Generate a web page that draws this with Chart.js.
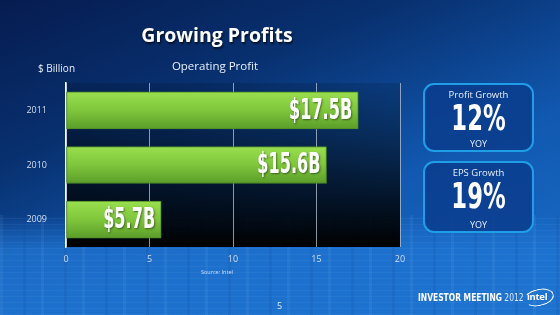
<!DOCTYPE html>
<html>
<head>
<meta charset="utf-8">
<script src="https://cdn.jsdelivr.net/npm/chart.js@4.4.1/dist/chart.umd.min.js"></script>
<style>
  html, body { margin: 0; padding: 0; }
  body {
    width: 560px; height: 315px; overflow: hidden; position: relative;
    font-family: "Open Sans", "DejaVu Sans", sans-serif; color: #fff;
    background: linear-gradient(158deg, #061c50 0%, #08306f 30%, #1158b0 62%, #1a6fca 100%);
  }
  #wafer {
    position: absolute; left: 0; top: 215px; width: 560px; height: 100px;
    background:
      repeating-linear-gradient(90deg, rgba(140,200,255,0.08) 0 3px, transparent 3px 23px, rgba(10,60,140,0.12) 23px 26px, transparent 26px 41px),
      repeating-linear-gradient(0deg, rgba(140,200,255,0.07) 0 1px, transparent 1px 6px),
      linear-gradient(180deg, rgba(30,110,210,0) 0%, rgba(32,118,212,0.75) 35%, rgba(30,115,208,0.9) 100%);
  }
  #chart { position: absolute; left: 0; top: 0; }
  .txt { position: absolute; white-space: nowrap; }
  #title { left: 0; width: 434px; top: 21px; text-align: center; font-size: 19.5px; font-weight: 700;
           text-shadow: 1px 2px 2px rgba(0,0,0,0.6); }
  #unit { left: 38px; top: 61px; font-size: 10px; color: #e8eef8; }
  #sub { left: 150px; width: 130px; top: 58px; text-align: center; font-size: 11.5px; color: #e8eef8; }
  .box {
    position: absolute; left: 423px; width: 107px; border: 2px solid #1f9de6; border-radius: 11px;
    background: rgba(10,60,140,0.85); text-align: center;
  }
  .box .lbl { position: absolute; left: 0; right: 0; font-size: 9.5px; color: #e6eefa; }
  .box .big { position: absolute; left: 0; right: 0; font-family: "DejaVu Sans Condensed", sans-serif;
              font-weight: 700; font-size: 36px; line-height: 36px; transform: scaleX(0.7); }
  .box .yoy { position: absolute; left: 0; right: 0; font-size: 9px; color: #e6eefa; }
  #src { left: 201px; top: 268px; font-size: 5.5px; color: #cfe0f5; }
  #page { left: 277px; top: 299px; font-size: 9px; color: #dde8f6; }
  #meet { left: 418px; top: 291px; font-family: "DejaVu Sans Condensed", sans-serif; font-size: 10.5px; color: #fff;
          transform: scaleX(0.8); transform-origin: left center; }
  #meet b { font-weight: 700; }
  #meet span { color: #d8e6f6; font-weight: 400; }
  #logo { left: 524px; top: 289px; width: 28px; height: 15px; border: 1.5px solid #fff; border-radius: 50%;
          border-left-color: transparent; transform: rotate(-12deg); }
  #logotxt { left: 527px; top: 290px; font-size: 9.5px; font-weight: 700; color: #fff; letter-spacing: -0.3px; }
</style>
</head>
<body>
<div id="wafer"></div>
<canvas id="chart" width="560" height="315"></canvas>

<div class="txt" id="title">Growing Profits</div>
<div class="txt" id="unit">$ Billion</div>
<div class="txt" id="sub">Operating Profit</div>

<div id="boxes"></div>

<div class="txt" id="src">Source: Intel</div>
<div class="txt" id="page">5</div>
<div class="txt" id="meet"><b>INVESTOR MEETING</b> <span>2012</span></div>
<div class="txt" id="logo"></div>
<div class="txt" id="logotxt">intel</div>

<script>
// datos del grafico
const years = ['2011', '2010', '2009'];
const operatingProfit = [17.5, 15.6, 5.7];
const xTicks = [0, 5, 10, 15, 20];

// recuadros de la derecha
const kpiTitles = ['Profit Growth', 'EPS Growth'];
const kpiValues = ['12%', '19%'];
const kpiUnits = ['YOY', 'YOY'];

document.addEventListener('DOMContentLoaded', function () {
    // --- recuadros KPI ---
    const boxTops = [83, 161];
    const boxes = document.getElementById('boxes');
    kpiTitles.forEach((t, i) => {
        const b = document.createElement('div');
        b.className = 'box';
        b.style.top = boxTops[i] + 'px';
        b.style.height = (i === 0 ? 65 : 68) + 'px';
        b.innerHTML =
            '<div class="lbl" style="top:3px">' + t + '</div>' +
            '<div class="big" style="top:15px">' + kpiValues[i] + '</div>' +
            '<div class="yoy" style="top:' + (i === 0 ? 52 : 55) + 'px">' + kpiUnits[i] + '</div>';
        boxes.appendChild(b);
    });

    // fondo del area del grafico (azul a negro)
    const fondoArea = {
        id: 'fondoArea',
        beforeDraw(chart) {
            const { ctx, chartArea: a } = chart;
            const g = ctx.createLinearGradient(0, a.top, 0, a.bottom);
            g.addColorStop(0, 'rgba(0,0,0,0.12)');
            g.addColorStop(0.55, 'rgba(0,0,0,0.65)');
            g.addColorStop(1, 'rgba(0,0,0,1)');
            ctx.save();
            ctx.fillStyle = g;
            ctx.fillRect(a.left, a.top, a.right - a.left, a.bottom - a.top);
            ctx.restore();
        }
    };

    // etiquetas dentro de las barras
    const etiquetas = {
        id: 'etiquetas',
        afterDatasetsDraw(chart) {
            const ctx = chart.ctx;
            const meta = chart.getDatasetMeta(0);
            meta.data.forEach((bar, i) => {
                const txt = '$' + operatingProfit[i].toFixed(1) + 'B';
                ctx.save();
                ctx.translate(bar.x - 6, bar.y + 1);
                ctx.scale(0.64, 1);
                ctx.font = 'bold 28px "DejaVu Sans Condensed", sans-serif';
                ctx.textAlign = 'right';
                ctx.textBaseline = 'middle';
                ctx.shadowColor = 'rgba(0,0,0,0.45)';
                ctx.shadowBlur = 2;
                ctx.shadowOffsetX = 1;
                ctx.shadowOffsetY = 1;
                ctx.fillStyle = '#ffffff';
                ctx.fillText(txt, 0, 0);
                ctx.restore();
            });
        }
    };

    const verde = function (context) {
        const chart = context.chart;
        if (!chart.chartArea) return '#7cc43c';
        const y = chart.scales.y.getPixelForValue(context.dataIndex);
        const g = chart.ctx.createLinearGradient(0, y - 18, 0, y + 18);
        g.addColorStop(0, '#98de4e');
        g.addColorStop(0.5, '#7fc63c');
        g.addColorStop(1, '#5c9e2a');
        return g;
    };

    new Chart(document.getElementById('chart'), {
        type: 'bar',
        data: {
            labels: years,
            datasets: [{
                data: operatingProfit,
                backgroundColor: verde,
                borderColor: '#4d8a26',
                borderWidth: 1,
                borderSkipped: false,
                barThickness: 37
            }]
        },
        options: {
            indexAxis: 'y',
            responsive: false,
            animation: false,
            devicePixelRatio: 1,
            layout: { padding: { left: 0, right: 160, top: 83, bottom: 48 } },
            plugins: {
                legend: { display: false },
                tooltip: { enabled: false }
            },
            scales: {
                x: {
                    min: 0, max: 20,
                    afterBuildTicks: s => { s.ticks = xTicks.map(v => ({ value: v })); },
                    afterFit: s => { s.height = 20; },
                    grid: { color: 'rgba(185,195,210,0.75)', lineWidth: 1, drawTicks: false },
                    border: { display: false },
                    ticks: { color: '#d2dced', padding: 7, font: { size: 9, family: 'Open Sans' } }
                },
                y: {
                    afterFit: s => { s.width = 66; },
                    grid: { display: false },
                    border: { color: '#ffffff', width: 1.5 },
                    ticks: { color: '#d2dced', padding: 11, font: { size: 9, family: 'Open Sans' } }
                }
            }
        },
        plugins: [fondoArea, etiquetas]
    });
});
</script>
</body>
</html>
